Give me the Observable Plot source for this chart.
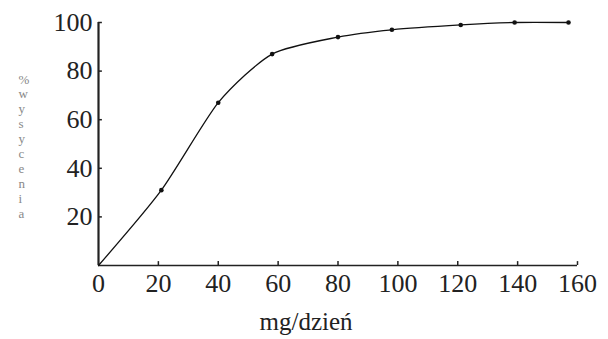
<!DOCTYPE html>
<html>
<head>
<meta charset="utf-8">
<script src="https://cdn.jsdelivr.net/npm/d3@7"></script>
<script src="https://cdn.jsdelivr.net/npm/@observablehq/plot@0.6"></script>
<style>
  html, body { margin: 0; padding: 0; background: #fff; }
  #chart svg { display: block; }
</style>
</head>
<body>
<div id="chart"></div>
<script>
// Data
const dose = [0, 21, 40, 58, 80, 98, 121, 139, 157];          // mg/dzień
const saturation = [0, 31, 67, 87, 94, 97, 99, 100, 100];     // % wysycenia
const xTicks = [0, 20, 40, 60, 80, 100, 120, 140, 160];
const yTicks = [20, 40, 60, 80, 100];
const xLabel = "mg/dzień";
const yLabel = "%wysycenia";

const data = dose.map((d, i) => ({dose: d, sat: saturation[i]}));
const points = data.filter(d => d.dose > 0);

const font = "'Liberation Serif', 'Times New Roman', serif";

const chart = Plot.plot({
  width: 608,
  height: 339,
  marginLeft: 98,
  marginRight: 31,
  marginTop: 22,
  marginBottom: 74,
  style: {fontFamily: font, background: "#fff"},
  x: {domain: [0, 160]},
  y: {domain: [0, 100]},
  marks: [
    // axis labels (numbers)
    Plot.axisX({ticks: xTicks, tickSize: 0, tickPadding: 8, fontSize: 26, label: null, fill: "#222"}),
    Plot.axisY({ticks: yTicks, tickSize: 0, tickPadding: 6, fontSize: 26, label: null, fill: "#222"}),
    // inward tick marks
    Plot.ruleX(xTicks.slice(1), {x: d => d, y1: 0, y2: 1.6, stroke: "#222", strokeWidth: 1.5}),
    Plot.ruleY(yTicks, {y: d => d, x1: 0, x2: 1.3, stroke: "#222", strokeWidth: 1.5}),
    // axis lines
    Plot.ruleY([0], {x1: 0, x2: 160, stroke: "#222", strokeWidth: 1.6}),
    Plot.ruleX([0], {y1: 0, y2: 100, stroke: "#222", strokeWidth: 2.2}),
    // curve
    Plot.line(data, {x: "dose", y: "sat", curve: "cardinal", tension: 0.3, stroke: "#111", strokeWidth: 1.3}),
    Plot.dot(points, {x: "dose", y: "sat", r: 2.3, fill: "#111"}),
    // axis titles
    Plot.text([xLabel], {text: d => d, frameAnchor: "bottom", dx: -32, dy: 64, fontSize: 25, fill: "#222", lineAnchor: "bottom"}),
    Plot.text([yLabel], {text: d => d.split("").join("\n"), frameAnchor: "left", dx: -80, dy: 2, fontSize: 13, lineHeight: 1.15, fill: "#888"})
  ]
});

document.getElementById("chart").appendChild(chart);
</script>
</body>
</html>
